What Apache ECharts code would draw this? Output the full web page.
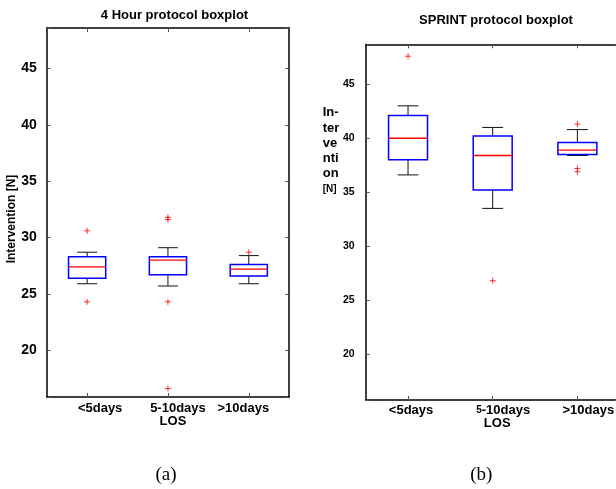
<!DOCTYPE html>
<html>
<head>
<meta charset="utf-8">
<script src="https://cdn.jsdelivr.net/npm/echarts@6/dist/echarts.min.js"></script>
<style>
html, body { margin: 0; padding: 0; background: #fff; }
#chart { width: 616px; height: 489px; }
</style>
</head>
<body>
<div id="chart"></div>
<script>
var categories = ['<5days', '5-10days', '>10days'];

// [lower whisker, q1, median, q3, upper whisker]
var fourHourBoxes = [
    [25.9, 26.4, 27.4, 28.3, 28.7],
    [25.7, 26.7, 28.0, 28.3, 29.1],
    [25.9, 26.6, 27.2, 27.6, 28.4]
];
var fourHourOutliers = [[0, 30.6], [0, 24.3], [1, 31.6], [1, 31.8], [1, 24.3], [1, 16.6], [2, 28.7]];

var sprintBoxes = [
    [36.6, 38.0, 40.0, 42.1, 43.0],
    [33.5, 35.2, 38.4, 40.2, 41.0],
    [38.4, 38.5, 38.9, 39.6, 40.8]
];
var sprintOutliers = [[0, 47.6], [1, 26.8], [2, 41.3], [2, 37.2], [2, 36.9]];

var FONT = '"Liberation Sans", Arial, sans-serif';

function toRows(boxes) {
    return boxes.map(function (b, i) { return [i].concat(b); });
}

function boxItem(params, api) {
    var i = api.value(0);
    var p = [1, 2, 3, 4, 5].map(function (k) { return api.coord([i, api.value(k)]); });
    var band = api.size([1, 0])[0];
    var x = p[0][0];
    var bw = band * 0.23, cw = band * 0.123;
    var black = { stroke: '#111', lineWidth: 1 };
    return {
        type: 'group',
        children: [
            { type: 'line', shape: { x1: x, y1: p[0][1], x2: x, y2: p[1][1] }, style: black },
            { type: 'line', shape: { x1: x, y1: p[3][1], x2: x, y2: p[4][1] }, style: black },
            { type: 'line', shape: { x1: x - cw, y1: p[0][1], x2: x + cw, y2: p[0][1] }, style: black },
            { type: 'line', shape: { x1: x - cw, y1: p[4][1], x2: x + cw, y2: p[4][1] }, style: black },
            { type: 'rect', shape: { x: x - bw, y: p[3][1], width: 2 * bw, height: p[1][1] - p[3][1] },
              style: { fill: 'none', stroke: '#0000ff', lineWidth: 1.5 } },
            { type: 'rect', shape: { x: x - bw, y: p[2][1] - 0.7, width: 2 * bw, height: 1.4 },
              style: { fill: '#ff0000' } }
        ]
    };
}

function tickLabel(v) {
    return Math.abs(v % 5) < 1e-6 ? String(v) : '';
}

function lbl(size, pad) {
    return { fontSize: size, fontWeight: 'bold', fontFamily: FONT, color: '#000', padding: pad };
}

var frameLine = { show: true, lineStyle: { color: '#000', width: 1.5 } };
function ticks(color) {
    return { show: true, inside: true, alignWithLabel: true, length: 4, lineStyle: { color: color } };
}

var chart = echarts.init(document.getElementById('chart'));

var option = {
    animation: false,
    grid: [
        { left: 46.7, top: 28, width: 242.5, height: 369, outerBoundsMode: 'none' },
        { left: 365.7, top: 44.3, width: 254, height: 355.7, outerBoundsMode: 'none' }
    ],
    xAxis: [
        {
            gridIndex: 0, type: 'category', data: categories, position: 'bottom',
            axisLine: frameLine, axisTick: ticks('#555'),
            axisLabel: {
                margin: 5, interval: 0, hideOverlap: false,
                formatter: function (v, i) { return '{a' + i + '|' + v + '}'; },
                rich: { a0: lbl(13, [0, 0, 0, 26]), a1: lbl(13, [0, 0, 0, 20]), a2: lbl(13, [0, 11, 0, 0]) }
            },
            name: 'LOS', nameLocation: 'middle', nameGap: 18, nameMoveOverlap: false,
            nameTextStyle: lbl(13, [0, 0, 0, 10])
        },
        {
            gridIndex: 0, type: 'category', data: categories, position: 'top',
            axisLine: frameLine, axisTick: ticks('#555'), axisLabel: { show: false }
        },
        {
            gridIndex: 1, type: 'category', data: categories, position: 'bottom',
            axisLine: frameLine, axisTick: ticks('#555'),
            axisLabel: {
                margin: 4, interval: 0, hideOverlap: false,
                formatter: function (v, i) {
                    if (i === 1) return '{s|5}{b1|-10days}';
                    return '{b' + i + '|' + v + '}';
                },
                rich: {
                    b0: lbl(13, [0, 0, 0, 6]),
                    s: lbl(10, [0, 0, 0, 21]),
                    b1: lbl(13, 0),
                    b2: lbl(13, [0, 0, 0, 22])
                }
            },
            name: 'LOS', nameLocation: 'middle', nameGap: 16.5, nameMoveOverlap: false,
            nameTextStyle: lbl(13, [0, 0, 0, 9])
        },
        {
            gridIndex: 1, type: 'category', data: categories, position: 'top',
            axisLine: frameLine, axisTick: ticks('#555'), axisLabel: { show: false }
        }
    ],
    yAxis: [
        {
            gridIndex: 0, type: 'value', min: 15.85, max: 48.6, position: 'left',
            axisLine: frameLine, axisTick: ticks('#555'), splitLine: { show: false },
            axisLabel: { margin: 10, formatter: tickLabel, fontSize: 14, fontWeight: 'bold', fontFamily: FONT, color: '#000' },
            name: 'Intervention [N]', nameLocation: 'middle', nameGap: 29, nameRotate: 90, nameMoveOverlap: false,
            nameTextStyle: lbl(12, [0, 13, 0, 0])
        },
        {
            gridIndex: 0, type: 'value', min: 15.85, max: 48.6, position: 'right',
            axisLine: frameLine, axisTick: ticks('#555'), splitLine: { show: false }, axisLabel: { show: false }
        },
        {
            gridIndex: 1, type: 'value', min: 15.75, max: 48.7, position: 'left',
            axisLine: frameLine, axisTick: ticks('#555'), splitLine: { show: false },
            axisLabel: { margin: 11, formatter: tickLabel, fontSize: 10.5, fontWeight: 'bold', fontFamily: FONT, color: '#000' }
        },
        {
            gridIndex: 1, type: 'value', min: 15.75, max: 48.7, position: 'right',
            axisLine: { show: false }, axisTick: ticks('#bbb'), splitLine: { show: false }, axisLabel: { show: false }
        }
    ],
    graphic: [
        { type: 'text', x: 174.5, y: 15, silent: true,
          style: { text: '4 Hour protocol boxplot', align: 'center', verticalAlign: 'middle',
                   fontSize: 13, fontWeight: 'bold', fontFamily: FONT, fill: '#000' } },
        { type: 'text', x: 496, y: 20.7, silent: true,
          style: { text: 'SPRINT protocol boxplot', align: 'center', verticalAlign: 'middle',
                   fontSize: 13, fontWeight: 'bold', fontFamily: FONT, fill: '#000' } },
        { type: 'text', x: 322.7, y: 105, silent: true,
          style: {
              text: '{t|In-}\n{t|ter}\n{t|ve}\n{t|nti}\n{t|on}\n{n|[N]}', align: 'left', verticalAlign: 'top',
              rich: {
                  t: { fontSize: 13, fontWeight: 'bold', fontFamily: FONT, fill: '#000', lineHeight: 15.3 },
                  n: { fontSize: 10, fontWeight: 'bold', fontFamily: FONT, fill: '#000', lineHeight: 15.3 }
              }
          } },
        { type: 'text', x: 166, y: 475, silent: true,
          style: { text: '(a)', align: 'center', verticalAlign: 'middle',
                   fontSize: 19, fontFamily: '"Liberation Serif", "Times New Roman", serif', fill: '#000' } },
        { type: 'text', x: 481.3, y: 475, silent: true,
          style: { text: '(b)', align: 'center', verticalAlign: 'middle',
                   fontSize: 19, fontFamily: '"Liberation Serif", "Times New Roman", serif', fill: '#000' } }
    ],
    series: [
        {
            type: 'custom', name: '4 Hour', xAxisIndex: 0, yAxisIndex: 0,
            renderItem: boxItem, data: toRows(fourHourBoxes),
            encode: { x: 0, y: [1, 2, 3, 4, 5] }, silent: true
        },
        {
            type: 'scatter', xAxisIndex: 0, yAxisIndex: 0, data: fourHourOutliers,
            symbol: 'path://M0,5L10,5M5,0L5,10', symbolSize: 6, silent: true,
            itemStyle: { color: '#ff0000', borderColor: '#ff0000', borderWidth: 1 }
        },
        {
            type: 'custom', name: 'SPRINT', xAxisIndex: 2, yAxisIndex: 2,
            renderItem: boxItem, data: toRows(sprintBoxes),
            encode: { x: 0, y: [1, 2, 3, 4, 5] }, silent: true
        },
        {
            type: 'scatter', xAxisIndex: 2, yAxisIndex: 2, data: sprintOutliers,
            symbol: 'path://M0,5L10,5M5,0L5,10', symbolSize: 6, silent: true,
            itemStyle: { color: '#ff0000', borderColor: '#ff0000', borderWidth: 1 }
        }
    ]
};

chart.setOption(option);
</script>
</body>
</html>
